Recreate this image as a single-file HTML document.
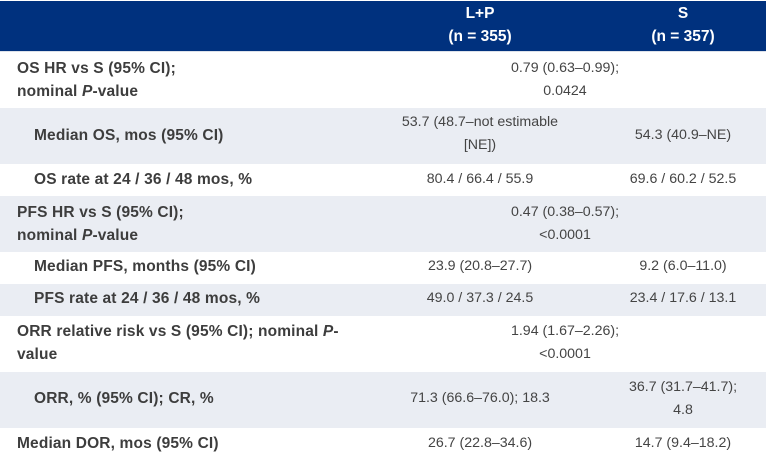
<!DOCTYPE html>
<html><head><meta charset="utf-8"><style>
body{margin:0;width:769px;height:465px;background:#fff;font-family:"Liberation Sans",sans-serif;font-size:14.2px;color:#444;position:relative;overflow:hidden}
.r{position:absolute;left:0;width:766px}
.g{background:#eaedf3}
.t{position:absolute;line-height:23px;white-space:nowrap}
.b{font-weight:bold;font-size:15.5px;letter-spacing:0.15px;color:#3d3d3d}
.c{text-align:center}
</style></head><body>
<div class="r" style="top:1px;height:50px;background:#00317e"></div>
<div class="t b c" style="top:2px;left:360px;width:240px;color:#fff;letter-spacing:0">L+P<br>(n = 355)</div>
<div class="t b c" style="top:2px;left:597px;width:172px;color:#fff;letter-spacing:0">S<br>(n = 357)</div>
<div class="r" style="top:51px;height:1px;background:#dde2ea"></div>

<div class="r g" style="top:108px;height:56px"></div>
<div class="r g" style="top:196px;height:56px"></div>
<div class="r g" style="top:284px;height:32px"></div>
<div class="r g" style="top:372px;height:56px"></div>

<div class="t b" style="top:57px;left:17px">OS HR vs S (95% CI);<br>nominal <i>P</i>-value</div>
<div class="t c" style="top:57px;left:360px;width:410px">0.79 (0.63–0.99);<br>0.0424</div>

<div class="t b" style="top:124px;left:34px">Median OS, mos (95% CI)</div>
<div class="t c" style="top:111px;left:360px;width:240px">53.7 (48.7–not estimable<br>[NE])</div>
<div class="t c" style="top:124px;left:597px;width:172px">54.3 (40.9–NE)</div>

<div class="t b" style="top:168px;left:34px">OS rate at 24 / 36 / 48 mos, %</div>
<div class="t c" style="top:168px;left:360px;width:240px">80.4 / 66.4 / 55.9</div>
<div class="t c" style="top:168px;left:597px;width:172px">69.6 / 60.2 / 52.5</div>

<div class="t b" style="top:201px;left:17px">PFS HR vs S (95% CI);<br>nominal <i>P</i>-value</div>
<div class="t c" style="top:201px;left:360px;width:410px">0.47 (0.38–0.57);<br>&lt;0.0001</div>

<div class="t b" style="top:255px;left:34px">Median PFS, months (95% CI)</div>
<div class="t c" style="top:255px;left:360px;width:240px">23.9 (20.8–27.7)</div>
<div class="t c" style="top:255px;left:597px;width:172px">9.2 (6.0–11.0)</div>

<div class="t b" style="top:287px;left:34px">PFS rate at 24 / 36 / 48 mos, %</div>
<div class="t c" style="top:287px;left:360px;width:240px">49.0 / 37.3 / 24.5</div>
<div class="t c" style="top:287px;left:597px;width:172px">23.4 / 17.6 / 13.1</div>

<div class="t b" style="top:320px;left:17px">ORR relative risk vs S (95% CI); nominal <i>P</i>-<br>value</div>
<div class="t c" style="top:320px;left:360px;width:410px">1.94 (1.67–2.26);<br>&lt;0.0001</div>

<div class="t b" style="top:387px;left:34px">ORR, % (95% CI); CR, %</div>
<div class="t c" style="top:387px;left:360px;width:240px">71.3 (66.6–76.0); 18.3</div>
<div class="t c" style="top:376px;left:597px;width:172px">36.7 (31.7–41.7);<br>4.8</div>

<div class="t b" style="top:432px;left:17px">Median DOR, mos (95% CI)</div>
<div class="t c" style="top:432px;left:360px;width:240px">26.7 (22.8–34.6)</div>
<div class="t c" style="top:432px;left:597px;width:172px">14.7 (9.4–18.2)</div>
</body></html>
